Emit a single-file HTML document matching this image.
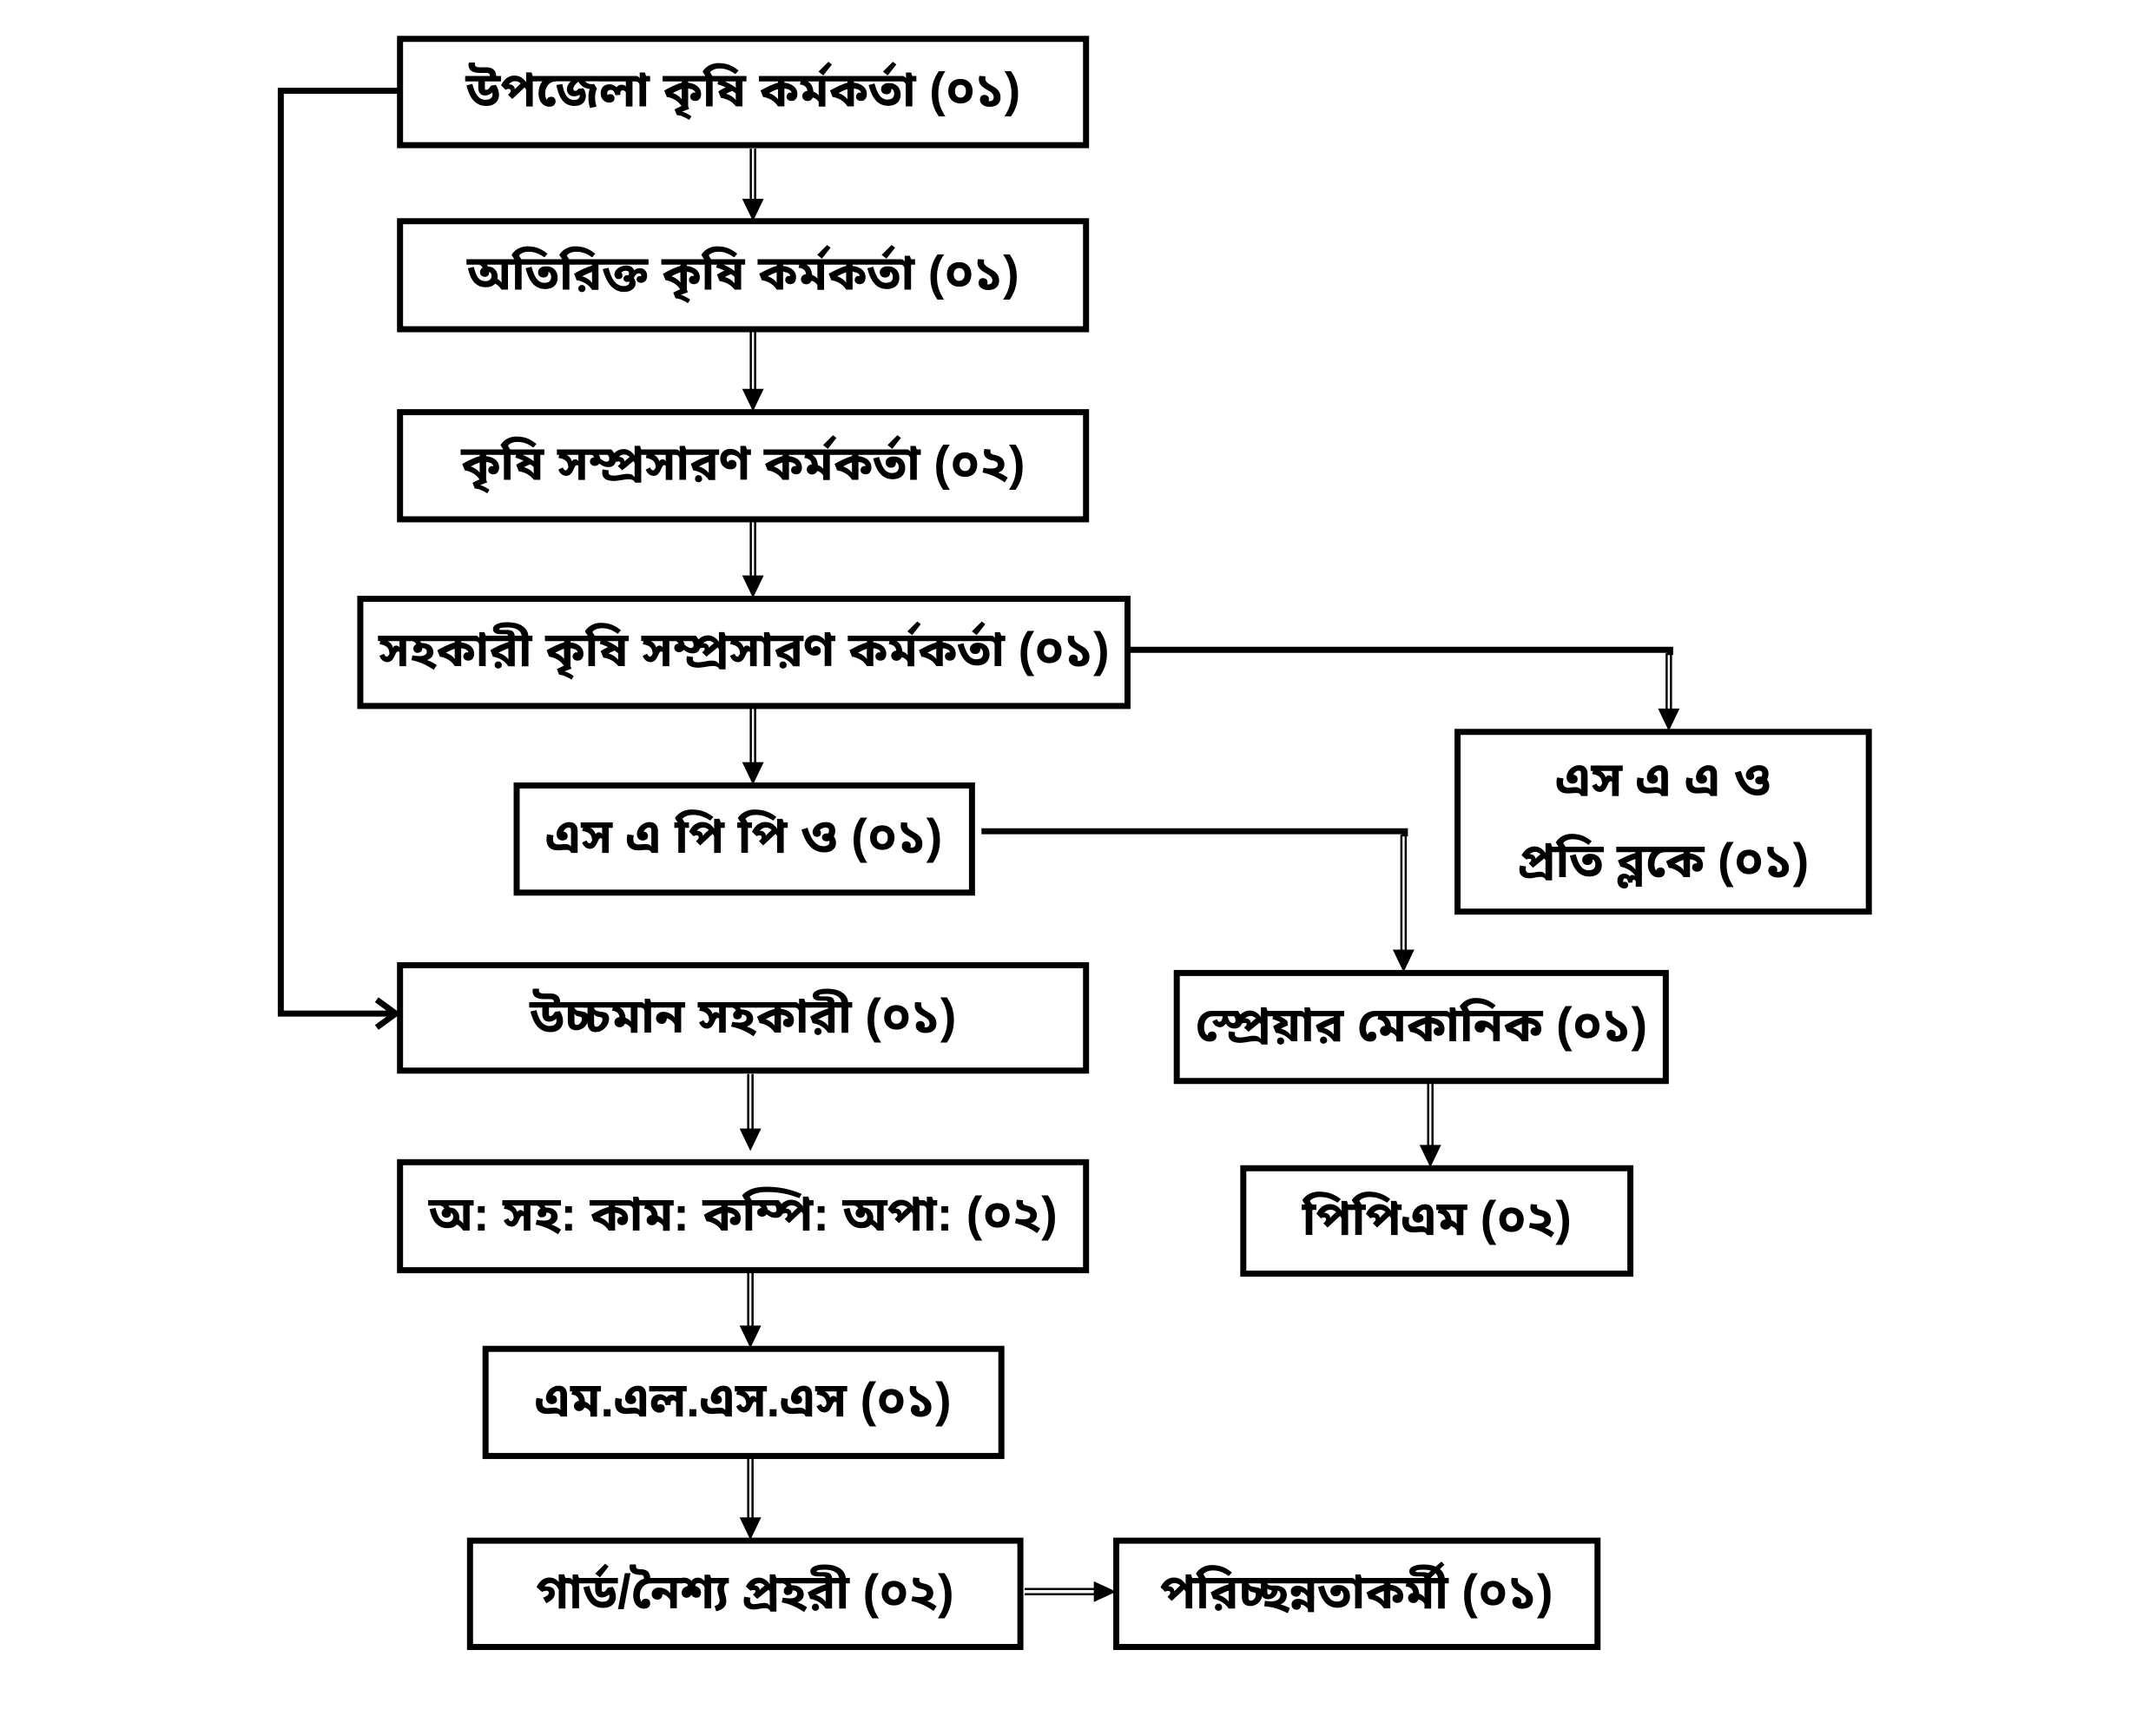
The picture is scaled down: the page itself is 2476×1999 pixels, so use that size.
<!DOCTYPE html>
<html><head><meta charset="utf-8"><style>
html,body{margin:0;padding:0;background:#fff;}
svg{display:block;}
text{font-family:"Liberation Sans","Noto Sans Bengali","Lohit Bengali",sans-serif;font-weight:bold;font-size:56px;fill:#000;text-anchor:middle;dominant-baseline:central;}
</style></head><body>
<svg width="2476" height="1999" viewBox="0 0 2476 1999" xmlns="http://www.w3.org/2000/svg">
<g transform="scale(0.995)">
<g fill="#fff" stroke="#000" stroke-width="7">
<rect x="463" y="45" width="794" height="123"/>
<rect x="463" y="256" width="794" height="125"/>
<rect x="463" y="477" width="794" height="124"/>
<rect x="417" y="693" width="888" height="124"/>
<rect x="598" y="909" width="527" height="124"/>
<rect x="1687" y="847" width="476" height="208"/>
<rect x="463" y="1117" width="794" height="122"/>
<rect x="1362" y="1126" width="566" height="125"/>
<rect x="463" y="1345" width="794" height="125"/>
<rect x="1439" y="1352" width="448" height="122"/>
<rect x="562" y="1561" width="597" height="124"/>
<rect x="544" y="1783" width="637" height="123"/>
<rect x="1292" y="1783" width="557" height="123"/>
</g>
<g>
<text x="860" y="104">উপজেলা কৃষি কর্মকর্তা (০১)</text>
<text x="860" y="316">অতিরিক্ত কৃষি কর্মকর্তা (০১)</text>
<text x="860" y="536">কৃষি সম্প্রসারণ কর্মকর্তা (০২)</text>
<text x="861" y="752">সহকারী কৃষি সম্প্রসারণ কর্মকর্তা (০১)</text>
<text x="861" y="968">এস এ পি পি ও (০১)</text>
<text x="1925" y="902">এস এ এ ও</text>
<text x="1925" y="996">প্রতি ব্লকে (০১)</text>
<text x="860" y="1176">উচ্চমান সহকারী (০১)</text>
<text x="1645" y="1186">স্প্রেয়ার মেকানিক (০১)</text>
<text x="860" y="1405">অ: সহ: কাম: কম্পি: অপা: (০২)</text>
<text x="1663" y="1410">পিপিএম (০২)</text>
<text x="860" y="1620">এম.এল.এস.এস (০১)</text>
<text x="862" y="1842">গার্ড/নৈশ্য প্রহরী (০২)</text>
<text x="1570" y="1842">পরিচ্ছন্নতাকর্মী (০১)</text>
</g>
<g stroke="#000" stroke-width="2.5" fill="none">
<path d="M869 172V232M874 172V232"/>
<path d="M869 384V452M874 384V452"/>
<path d="M869 604V668M874 604V668"/>
<path d="M869 820V884M874 820V884"/>
<path d="M866 1243V1308M871 1243V1308"/>
<path d="M866 1473V1536M871 1473V1536"/>
<path d="M866 1688V1758M871 1688V1758"/>
<path d="M1929 756V822M1934 756V822"/>
<path d="M1622 966V1101M1627 966V1101"/>
<path d="M1653 1254V1327M1658 1254V1327"/>
<path d="M1186 1839H1270M1186 1845H1270"/>
</g>
<g fill="#000">
<path d="M859 230L884 230L871.5 256z"/>
<path d="M859 450L884 450L871.5 476z"/>
<path d="M859 666L884 666L871.5 692z"/>
<path d="M859 882L884 882L871.5 908z"/>
<path d="M856 1306L881 1306L868.5 1332z"/>
<path d="M856 1534L881 1534L868.5 1560z"/>
<path d="M856 1756L881 1756L868.5 1782z"/>
<path d="M1919 820L1944 820L1931.5 846z"/>
<path d="M1612 1099L1637 1099L1624.5 1125z"/>
<path d="M1643 1325L1668 1325L1655.5 1351z"/>
<path d="M1266 1830L1292 1842L1266 1854z"/>
</g>
<g stroke="#000" stroke-width="7" fill="none">
<path d="M1305 752H1933V758"/>
<path d="M1136 962H1626V968"/>
<path d="M463 105H325V1173H455"/>
<path d="M436 1157L458 1173L436 1189"/>
</g>
</g>
</svg>
</body></html>
